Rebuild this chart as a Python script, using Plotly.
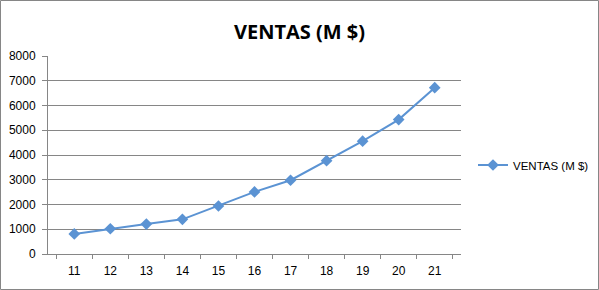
import plotly.graph_objects as go

years = ["11", "12", "13", "14", "15", "16", "17", "18", "19", "20", "21"]
ventas = [810, 1020, 1210, 1400, 1940, 2510, 2980, 3770, 4560, 5430, 6720]
series_name = "VENTAS (M $)"

W, H = 599, 290
L, R, T, B = 48, 138, 56, 36
pw, ph = W - L - R, H - T - B

fig = go.Figure()
fig.add_trace(go.Scatter(
    x=years, y=ventas, mode="lines+markers", name=series_name,
    line=dict(color="#5B93D3", width=2),
    marker=dict(symbol="diamond", size=9, color="#5B93D3"),
))

fig.update_layout(
    width=W, height=H,
    margin=dict(l=L, r=R, t=T, b=B, autoexpand=False),
    paper_bgcolor="white", plot_bgcolor="white",
    title=dict(text="<b>VENTAS (M $)</b>", x=0.5, xanchor="center",
               y=1 - 32 / H, yanchor="middle",
               font=dict(family="Open Sans, Liberation Sans, sans-serif", size=20, color="black")),
    font=dict(family="Liberation Sans, Arial, sans-serif", size=12, color="black"),
    showlegend=True,
    legend=dict(x=473 / W, y=1 - 165 / H, xref="container", yref="container",
                xanchor="left", yanchor="middle", bgcolor="rgba(0,0,0,0)",
                font=dict(size=11.5), itemwidth=30),
    xaxis=dict(type="category", tickson="boundaries", ticks="outside", ticklen=4,
               tickcolor="#868686", showline=True, linecolor="#868686", linewidth=1,
               showgrid=False, zeroline=False, tickfont=dict(size=12),
               ticklabelstandoff=6, automargin=False),
    yaxis=dict(range=[0, 8000], dtick=1000, ticks="outside", ticklen=5,
               tickcolor="#868686", showline=True, linecolor="#868686", linewidth=1,
               showgrid=True, gridcolor="#868686", gridwidth=1, zeroline=False,
               tickfont=dict(size=12), ticklabelstandoff=4, automargin=False),
    shapes=[dict(type="rect", xref="paper", yref="paper",
                 x0=(-L + 0.5) / pw, x1=(W - L - 0.5) / pw,
                 y0=(-B + 0.5) / ph, y1=(H - B - 0.5) / ph,
                 line=dict(color="#868686", width=1), fillcolor="rgba(0,0,0,0)",
                 layer="below")],
)

fig.write_html("out.html")
